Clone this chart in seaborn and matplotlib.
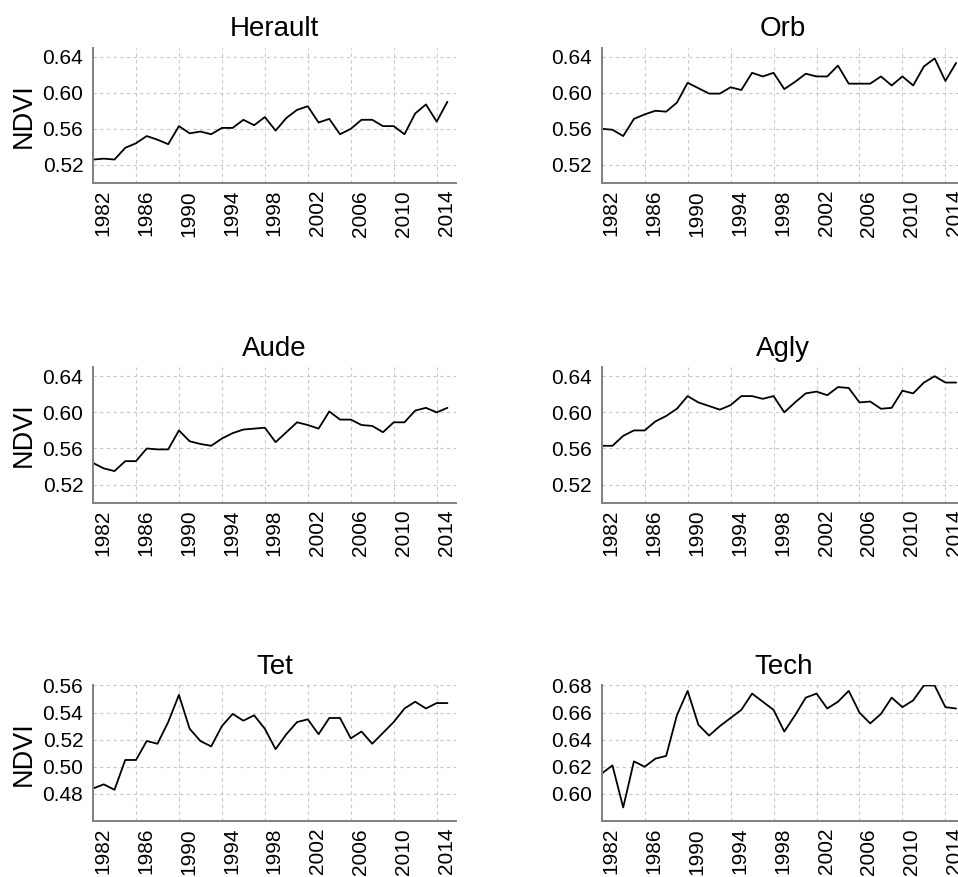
import pandas as pd
import seaborn as sns
import matplotlib.pyplot as plt

# NDVI yearly means per basin, 1982-2015
years = list(range(1982, 2016))
basins = ['Herault', 'Orb', 'Aude', 'Agly', 'Tet', 'Tech']

herault = [0.526, 0.527, 0.526, 0.539, 0.544, 0.552, 0.548, 0.543, 0.563, 0.555,
           0.557, 0.554, 0.561, 0.561, 0.570, 0.564, 0.573, 0.558, 0.572, 0.581,
           0.585, 0.567, 0.571, 0.554, 0.560, 0.570, 0.570, 0.563, 0.563, 0.554,
           0.577, 0.587, 0.568, 0.590]
orb = [0.560, 0.559, 0.552, 0.571, 0.576, 0.580, 0.579, 0.589, 0.611, 0.605,
       0.599, 0.599, 0.606, 0.603, 0.622, 0.618, 0.622, 0.604, 0.612, 0.621,
       0.618, 0.618, 0.630, 0.610, 0.610, 0.610, 0.618, 0.608, 0.618, 0.608,
       0.629, 0.638, 0.613, 0.633]
aude = [0.544, 0.538, 0.535, 0.546, 0.546, 0.560, 0.559, 0.559, 0.580, 0.568,
        0.565, 0.563, 0.571, 0.577, 0.581, 0.582, 0.583, 0.567, 0.578, 0.589,
        0.586, 0.582, 0.601, 0.592, 0.592, 0.586, 0.585, 0.578, 0.589, 0.589,
        0.602, 0.605, 0.600, 0.605]
agly = [0.563, 0.563, 0.574, 0.580, 0.580, 0.590, 0.596, 0.604, 0.618, 0.611,
        0.607, 0.603, 0.608, 0.618, 0.618, 0.615, 0.618, 0.600, 0.611, 0.621,
        0.623, 0.619, 0.628, 0.627, 0.611, 0.612, 0.604, 0.605, 0.624, 0.621,
        0.633, 0.640, 0.633, 0.633]
tet = [0.484, 0.487, 0.483, 0.505, 0.505, 0.519, 0.517, 0.533, 0.553, 0.528,
       0.519, 0.515, 0.530, 0.539, 0.534, 0.538, 0.528, 0.513, 0.524, 0.533,
       0.535, 0.524, 0.536, 0.536, 0.521, 0.526, 0.517, 0.525, 0.533, 0.543,
       0.548, 0.543, 0.547, 0.547]
tech = [0.615, 0.621, 0.590, 0.624, 0.620, 0.626, 0.628, 0.658, 0.676, 0.651,
        0.643, 0.650, 0.656, 0.662, 0.674, 0.668, 0.662, 0.646, 0.658, 0.671,
        0.674, 0.663, 0.668, 0.676, 0.660, 0.652, 0.659, 0.671, 0.664, 0.669,
        0.680, 0.680, 0.664, 0.663]

series = [herault, orb, aude, agly, tet, tech]
ylims = [(0.50, 0.65), (0.50, 0.65), (0.50, 0.65), (0.50, 0.65), (0.46, 0.56), (0.58, 0.68)]
yticks = [[0.52, 0.56, 0.60, 0.64]] * 4 + [[0.48, 0.50, 0.52, 0.54, 0.56],
                                           [0.60, 0.62, 0.64, 0.66, 0.68]]
xticks = list(range(1982, 2015, 4))

df = pd.DataFrame({'Year': years * len(basins),
                   'NDVI': sum(series, []),
                   'Basin': [b for b in basins for _ in years]})

sns.set_style('white')
plt.rcParams['font.family'] = ['Liberation Sans', 'DejaVu Sans']
plt.rcParams['text.color'] = 'black'
plt.rcParams['axes.labelcolor'] = 'black'

fig = plt.figure(figsize=(9.58, 8.77), dpi=100)

# axes boxes (left, bottom, width, height) -- right column runs off the page
lefts = [0.0971, 0.6281]
bottoms = [0.7913, 0.4268, 0.0639]
w, h = 0.3789, 0.1545

for i, name in enumerate(basins):
    row, col = divmod(i, 2)
    ax = fig.add_axes([lefts[col], bottoms[row], w, h])
    sns.lineplot(data=df[df['Basin'] == name], x='Year', y='NDVI',
                 color='black', linewidth=1.3, ax=ax)
    ax.set_xlim(1982, 2015.8)
    ax.set_ylim(*ylims[i])
    ax.set_xticks(xticks)
    ax.set_yticks(yticks[i])
    ax.set_yticklabels([f'{v:.2f}' for v in yticks[i]])
    ax.set_xticklabels([str(x) for x in xticks], rotation=90, ha='left', va='top')
    ax.tick_params(length=0, labelsize=15, colors='black')
    ax.tick_params(axis='y', pad=7)
    ax.tick_params(axis='x', pad=5)
    ax.grid(True, color='#c8c8c8', linestyle=(0, (3, 3)), linewidth=0.8)
    for s in ['top', 'right']:
        ax.spines[s].set_visible(False)
    for s in ['left', 'bottom']:
        ax.spines[s].set_color('#808080')
        ax.spines[s].set_linewidth(1.4)
    ax.set_title(name, fontsize=20, pad=8, color='black')
    ax.set_xlabel('')
    if col == 0:
        ax.set_ylabel('NDVI', fontsize=19.5, labelpad=4, color='black')
    else:
        ax.set_ylabel('')

fig.savefig('out.png', dpi=100)
